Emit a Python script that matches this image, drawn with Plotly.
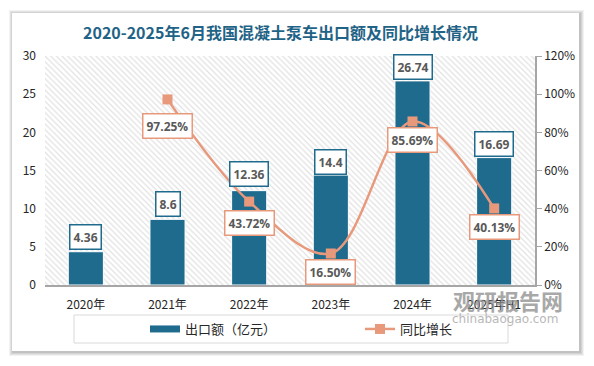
import plotly.graph_objects as go

# ---- data ----
categories = ["2020年", "2021年", "2022年", "2023年", "2024年", "2025年H1"]
export_value = [4.36, 8.6, 12.36, 14.4, 26.74, 16.69]          # 亿元
yoy_growth = [None, 0.9725, 0.4372, 0.1650, 0.8569, 0.4013]     # 同比增长
bar_labels = ["4.36", "8.6", "12.36", "14.4", "26.74", "16.69"]
growth_labels = [None, "97.25%", "43.72%", "16.50%", "85.69%", "40.13%"]
left_ticks = [0, 5, 10, 15, 20, 25, 30]
right_ticks = [0, 0.2, 0.4, 0.6, 0.8, 1.0, 1.2]

# ---- style ----
W, H = 594, 366
ML, MR, MT, MB = 45, 59, 56, 81
BAR_C = "#1E6B8E"
LINE_C = "#E8997B"
TITLE_C = "#1F6386"
FONT = "Noto Sans CJK SC"
LBL_FONT = "Open Sans"
line_label_dy = [0, -27, -21, -18, -19, -19]
bar_label_dy = [15, 15, 17, 13, 14, 14]

pw, ph = W - ML - MR, H - MT - MB
def px(x):
    return (x - ML) / pw
def py(y):
    return (H - MB - y) / ph

xs = list(range(len(categories)))
x_lo, x_hi = -0.5, len(categories) - 0.5
y_lo, y_hi = left_ticks[0], left_ticks[-1]

fig = go.Figure()

# hatched plot-area background (base subplot, drawn first)
fig.add_trace(go.Scatter(
    x=[x_lo, x_hi, x_hi, x_lo, x_lo], y=[y_lo, y_lo, y_hi, y_hi, y_lo],
    mode="lines", line=dict(width=0), fill="toself", fillcolor="white",
    fillpattern=dict(shape="\\", fgcolor="#c4c4c4", bgcolor="white", size=4, solidity=0.3),
    hoverinfo="skip", showlegend=False))

fig.add_trace(go.Bar(
    x=xs, y=export_value, name="出口额（亿元）", width=0.43, yaxis="y2",
    legendgroup="bar", showlegend=False,
    marker=dict(color=BAR_C, line=dict(color="white", width=1))))
# legend proxy for the bar series (flat wide swatch, as in the reference)
fig.add_trace(go.Scatter(
    x=[None], y=[None], name="出口额（亿元）", yaxis="y2", mode="lines",
    legendgroup="bar", line=dict(color=BAR_C, width=7), hoverinfo="skip"))

fig.add_trace(go.Scatter(
    x=xs, y=yoy_growth, name="同比增长", yaxis="y3", mode="lines+markers",
    line=dict(color=LINE_C, width=2.5, shape="spline", smoothing=1.0),
    marker=dict(symbol="square", size=10, color=LINE_C)))

ann = []
for i, (v, t) in enumerate(zip(export_value, bar_labels)):
    ann.append(dict(x=xs[i], y=v, xref="x", yref="y2", text=f"<b>{t}</b>", showarrow=False,
                    yshift=bar_label_dy[i], bgcolor="white", bordercolor=BAR_C, borderwidth=1.5,
                    borderpad=3, font=dict(family=LBL_FONT, size=12, color="#595959")))
for i, (v, t) in enumerate(zip(yoy_growth, growth_labels)):
    if v is None:
        continue
    ann.append(dict(x=xs[i], y=v, xref="x", yref="y3", text=f"<b>{t}</b>", showarrow=False,
                    yshift=line_label_dy[i], bgcolor="white", bordercolor=LINE_C, borderwidth=1.5,
                    borderpad=3, font=dict(family=LBL_FONT, size=12, color="#595959")))
# title
ann.append(dict(x=px(280), y=py(32), xref="paper", yref="paper", showarrow=False,
                xanchor="center", yanchor="middle",
                text="<b>2020-2025年6月我国混凝土泵车出口额及同比增长情况</b>",
                font=dict(family=FONT, size=16, color=TITLE_C)))
# watermark
ann.append(dict(x=px(508), y=py(300), xref="paper", yref="paper", showarrow=False,
                xanchor="center", yanchor="middle",
                text="<b>观研报告网</b>", opacity=0.75,
                font=dict(family=FONT, size=22, color="#8c8c8c")))
ann.append(dict(x=px(505), y=py(319), xref="paper", yref="paper", showarrow=False,
                xanchor="center", yanchor="middle",
                text="chinabaogao.com", opacity=0.7,
                font=dict(family="DejaVu Sans", size=12, color="#9a9a9a")))

shapes = []
# card shadow
for d, op in [(4, 0.05), (3, 0.06), (2, 0.07), (1, 0.08)]:
    shapes.append(dict(type="rect", xref="paper", yref="paper", layer="below",
                       x0=px(12 - d + 1), x1=px(579 + d + 1), y0=py(351 + d + 1), y1=py(13 - d + 1),
                       line=dict(width=0), fillcolor=f"rgba(0,0,0,{op})"))
shapes.append(dict(type="rect", xref="paper", yref="paper", layer="below",
                   x0=px(12), x1=px(579), y0=py(351), y1=py(13),
                   line=dict(width=0), fillcolor="white"))
# legend frame
shapes.append(dict(type="rect", xref="paper", yref="paper", layer="below",
                   x0=px(74), x1=px(508), y0=py(343), y1=py(315),
                   line=dict(width=1, color="#d9d9d9"), fillcolor="white"))

fig.update_layout(
    width=W, height=H, margin=dict(l=ML, r=MR, t=MT, b=MB, autoexpand=False),
    paper_bgcolor="white", plot_bgcolor="rgba(0,0,0,0)",
    font=dict(family=FONT, size=12, color="#404040"),
    showlegend=True,
    legend=dict(orientation="h", x=px(145), xanchor="left", y=py(329), yanchor="middle",
                bgcolor="rgba(0,0,0,0)", font=dict(family=FONT, size=13, color="#262626"),
                entrywidth=170, entrywidthmode="pixels", itemwidth=30),
    xaxis=dict(range=[x_lo, x_hi], tickvals=xs, ticktext=categories, showgrid=False,
               zeroline=False, showline=True, linecolor="#a6a6a6", linewidth=1.5, ticks="",
               ticklabelstandoff=8, tickfont=dict(size=12, color="#262626")),
    yaxis=dict(range=[y_lo, y_hi], tickvals=left_ticks, showgrid=False, zeroline=False,
               showline=False, ticklabelstandoff=8, tickfont=dict(size=12, color="#262626")),
    yaxis2=dict(range=[y_lo, y_hi], overlaying="y", visible=False, showgrid=False, zeroline=False),
    yaxis3=dict(range=[right_ticks[0], right_ticks[-1]], tickvals=right_ticks, tickformat=".0%",
                overlaying="y", side="right", showgrid=False, zeroline=False, showline=True,
                linecolor="#a6a6a6", linewidth=1.5, ticks="outside", ticklen=5, tickcolor="#a6a6a6",
                tickfont=dict(size=12, color="#262626")),
    annotations=ann, shapes=shapes, bargap=0.57,
)

fig.write_html("out.html", config={"displayModeBar": False},
               post_script="document.body.style.margin='0';")
